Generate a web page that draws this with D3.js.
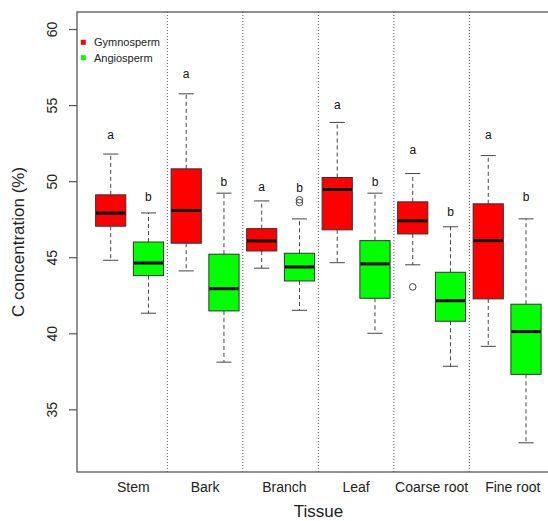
<!DOCTYPE html>
<html>
<head>
<meta charset="utf-8">
<script src="https://cdn.jsdelivr.net/npm/d3@7"></script>
<style>
  html, body { margin: 0; padding: 0; background: #fff; }
  svg { display: block; font-family: "Liberation Sans", Arial, sans-serif; }
</style>
</head>
<body>
<svg id="chart" width="548" height="521"></svg>
<script>
// Carbon concentration (%) by tissue, gymnosperms vs angiosperms
const tissues = ["Stem", "Bark", "Branch", "Leaf", "Coarse root", "Fine root"];
const groups = ["Gymnosperm", "Angiosperm"];
const groupColors = ["#ff0000", "#00ff00"];

// five-number summaries: [lower whisker, Q1, median, Q3, upper whisker]
const gymnosperm = [
  [44.8, 47.04, 47.9, 49.1, 51.78],
  [44.1, 45.92, 48.07, 50.81, 55.74],
  [44.28, 45.41, 46.07, 46.88, 48.7],
  [44.64, 46.8, 49.45, 50.24, 53.86],
  [44.5, 46.53, 47.39, 48.64, 50.5],
  [39.14, 42.26, 46.09, 48.51, 51.68]
];
const angiosperm = [
  [41.32, 43.79, 44.62, 46.0, 47.91],
  [38.1, 41.47, 42.93, 45.2, 49.21],
  [41.51, 43.44, 44.36, 45.26, 47.52],
  [40.0, 42.3, 44.56, 46.09, 49.21],
  [37.83, 40.79, 42.14, 44.01, 47.0],
  [32.8, 37.3, 40.11, 41.91, 47.52]
];
// outlying points
const gymnospermOutliers = [[], [], [], [], [43.05], []];
const angiospermOutliers = [[], [], [48.77, 48.59], [], [], []];

// significance letters and the height they sit at
const gymnospermLetters = ["a", "a", "a", "a", "a", "a"];
const angiospermLetters = ["b", "b", "b", "b", "b", "b"];
const gymnospermLetterAt = [52.76, 56.78, 49.38, 54.76, 51.8, 52.76];
const angiospermLetterAt = [48.72, 49.69, 49.28, 49.71, 47.74, 48.72];

const yTicks = [35, 40, 45, 50, 55, 60];
const tissueLabelPos = [1.6, 3.5, 5.6, 7.5, 9.5, 11.65];
const yTitle = "C concentration (%)";
const xTitle = "Tissue";

const svg = d3.select("#chart");
const frame = { left: 77, top: 12, right: 560, bottom: 472 };

const y = d3.scaleLinear().domain([30.88, 61.12]).range([frame.bottom, frame.top]);
const x = d3.scaleLinear().domain([1, 12]).range([110.7, 526]);
const boxW = x(1.8) - x(1);

// build one record per box
const boxes = [];
tissues.forEach((t, i) => {
  [gymnosperm, angiosperm].forEach((series, g) => {
    const s = series[i];
    boxes.push({
      pos: i * 2 + g + 1,
      lo: s[0], q1: s[1], med: s[2], q3: s[3], hi: s[4],
      color: groupColors[g],
      out: (g === 0 ? gymnospermOutliers : angiospermOutliers)[i],
      letter: (g === 0 ? gymnospermLetters : angiospermLetters)[i],
      letterAt: (g === 0 ? gymnospermLetterAt : angiospermLetterAt)[i]
    });
  });
});

// dotted separators between tissues
svg.append("g").selectAll("line")
  .data(d3.range(1, tissues.length))
  .join("line")
  .attr("x1", d => x(d * 2 + 0.5)).attr("x2", d => x(d * 2 + 0.5))
  .attr("y1", frame.top).attr("y2", frame.bottom)
  .attr("stroke", "#555").attr("stroke-width", 1)
  .attr("stroke-dasharray", "1,2");

const bg = svg.append("g").selectAll("g").data(boxes).join("g");

// whiskers (dashed) and staples
bg.append("line")
  .attr("x1", d => x(d.pos)).attr("x2", d => x(d.pos))
  .attr("y1", d => y(d.q3)).attr("y2", d => y(d.hi))
  .attr("stroke", "#444").attr("stroke-dasharray", "4,3");
bg.append("line")
  .attr("x1", d => x(d.pos)).attr("x2", d => x(d.pos))
  .attr("y1", d => y(d.q1)).attr("y2", d => y(d.lo))
  .attr("stroke", "#444").attr("stroke-dasharray", "4,3");
bg.append("line")
  .attr("x1", d => x(d.pos) - boxW / 4).attr("x2", d => x(d.pos) + boxW / 4)
  .attr("y1", d => y(d.hi)).attr("y2", d => y(d.hi))
  .attr("stroke", "#444");
bg.append("line")
  .attr("x1", d => x(d.pos) - boxW / 4).attr("x2", d => x(d.pos) + boxW / 4)
  .attr("y1", d => y(d.lo)).attr("y2", d => y(d.lo))
  .attr("stroke", "#444");

// interquartile boxes
bg.append("rect")
  .attr("x", d => x(d.pos) - boxW / 2)
  .attr("width", boxW)
  .attr("y", d => y(d.q3))
  .attr("height", d => y(d.q1) - y(d.q3))
  .attr("fill", d => d.color)
  .attr("stroke", "#333").attr("stroke-width", 1);

// medians
bg.append("line")
  .attr("x1", d => x(d.pos) - boxW / 2 + 0.5).attr("x2", d => x(d.pos) + boxW / 2 - 0.5)
  .attr("y1", d => y(d.med)).attr("y2", d => y(d.med))
  .attr("stroke", "#000").attr("stroke-width", 3);

// outliers
bg.selectAll("circle")
  .data(d => d.out.map(v => ({ pos: d.pos, v })))
  .join("circle")
  .attr("cx", d => x(d.pos)).attr("cy", d => y(d.v))
  .attr("r", 3.3)
  .attr("fill", "none").attr("stroke", "#444").attr("stroke-width", 1);

// letters
bg.append("text")
  .attr("x", d => x(d.pos)).attr("y", d => y(d.letterAt))
  .attr("text-anchor", "middle")
  .attr("font-size", 12).attr("fill", "#111")
  .text(d => d.letter);

// frame
svg.append("rect")
  .attr("x", frame.left).attr("y", frame.top)
  .attr("width", frame.right - frame.left).attr("height", frame.bottom - frame.top)
  .attr("fill", "none").attr("stroke", "#555").attr("stroke-width", 1.3);

// y axis
const yAxis = svg.append("g")
  .attr("transform", `translate(${frame.left},0)`)
  .call(d3.axisLeft(y).tickValues(yTicks).tickSize(8).tickPadding(0).tickFormat(d3.format("d")));
yAxis.select(".domain").remove();
yAxis.selectAll(".tick line").attr("stroke", "#555").attr("stroke-width", 1.2);
yAxis.selectAll(".tick text")
  .attr("font-size", 14).attr("font-family", "Liberation Sans, Arial, sans-serif")
  .attr("fill", "#222")
  .attr("text-anchor", "middle")
  .attr("x", 0).attr("dy", null).attr("y", 0)
  .attr("transform", "translate(-19.7,0) rotate(-90)");

// tissue labels
svg.append("g").selectAll("text")
  .data(tissues)
  .join("text")
  .attr("x", (d, i) => x(tissueLabelPos[i]))
  .attr("y", 491.5)
  .attr("text-anchor", "middle")
  .attr("font-size", 14).attr("fill", "#222")
  .text(d => d);

// axis titles
svg.append("text")
  .attr("x", (frame.left + frame.right) / 2).attr("y", 517)
  .attr("text-anchor", "middle").attr("font-size", 17).attr("fill", "#222")
  .text(xTitle);
svg.append("text")
  .attr("transform", `translate(24,${(frame.top + frame.bottom) / 2}) rotate(-90)`)
  .attr("text-anchor", "middle").attr("font-size", 17).attr("fill", "#222")
  .text(yTitle);

// legend
const lg = svg.append("g").selectAll("g").data(groups).join("g")
  .attr("transform", (d, i) => `translate(83.3,${42.3 + i * 15.4})`);
lg.append("rect")
  .attr("x", -2.5).attr("y", -2.5).attr("width", 5).attr("height", 5)
  .attr("fill", (d, i) => groupColors[i]);
lg.append("text")
  .attr("x", 10.7).attr("y", 3.8)
  .attr("font-size", 11).attr("fill", "#222")
  .text(d => d);
</script>
</body>
</html>
